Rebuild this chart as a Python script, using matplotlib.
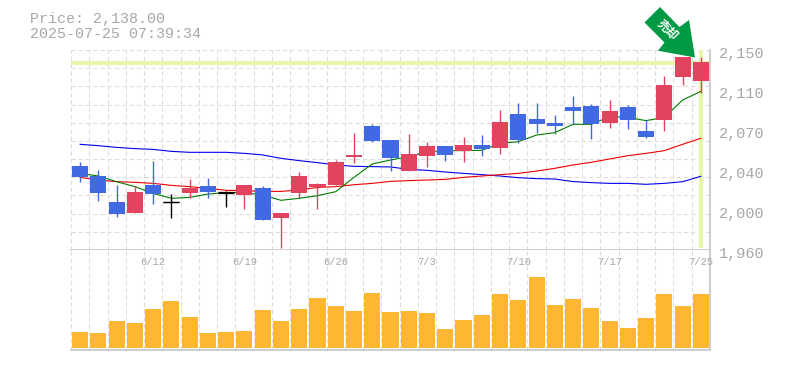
import matplotlib
matplotlib.use('Agg')
import matplotlib.pyplot as plt
from matplotlib.patches import Polygon

# candle values
opens = [2039.8, 2030.3, 2005.6, 1995.2, 2021.8, 2005.3, 2014.2, 2020.8, 2015.1, 2012.2, 2018.9, 1990.4,
         2014.2, 2019.5, 2021.8, 2048.4, 2077.8, 2064.5, 2035.0, 2049.3, 2058.8, 2054.0, 2059.8, 2056.9,
         2089.2, 2084.4, 2080.6, 2095.9, 2096.8, 2080.6, 2095.9, 2073.0, 2083.5, 2124.3, 2120.5]
closes = [2029.3, 2014.2, 1994.2, 2015.1, 2013.2, 2005.3, 2018.9, 2015.1, 2014.2, 2021.8, 1988.5, 1995.2,
          2030.3, 2022.7, 2043.6, 2050.3, 2063.5, 2047.4, 2051.2, 2058.8, 2050.3, 2059.8, 2056.0, 2081.6,
          2064.5, 2079.7, 2077.8, 2092.0, 2079.7, 2092.0, 2083.5, 2067.4, 2116.8, 2143.0, 2138.6]
highs = [2043.6, 2036.0, 2021.8, 2020.8, 2044.5, 2013.2, 2027.4, 2028.4, 2016.0, 2021.8, 2020.8, 1995.2,
         2034.1, 2023.6, 2045.5, 2071.1, 2079.7, 2064.5, 2070.2, 2062.6, 2058.8, 2067.4, 2069.3, 2093.0,
         2099.7, 2099.6, 2088.2, 2106.3, 2098.7, 2102.5, 2097.8, 2083.5, 2125.3, 2143.0, 2143.4]
lows = [2024.6, 2006.5, 1991.3, 1995.2, 2003.7, 1990.4, 2009.4, 2009.4, 2000.9, 1999.0, 1988.5, 1961.9,
        2009.4, 1999.0, 2021.8, 2042.6, 2062.6, 2035.0, 2035.0, 2038.8, 2044.5, 2043.6, 2049.3, 2051.2,
        2061.6, 2071.1, 2070.2, 2079.7, 2065.4, 2075.9, 2075.0, 2066.4, 2073.0, 2116.8, 2109.1]
volume = [16, 15, 27, 25, 39, 47, 31, 15, 16, 17, 38, 27, 39, 50, 42, 37, 55, 36,
          37, 35, 19, 28, 33, 54, 48, 71, 43, 49, 40, 27, 20, 30, 54, 42, 54]

ma_short = [2032.8, 2030.3, 2024.9, 2020.2, 2013.8, 2009.1, 2010.0, 2013.2, 2014.5, 2014.5, 2012.2, 2007.2,
            2009.1, 2011.6, 2015.4, 2029.0, 2041.7, 2045.5, 2048.7, 2053.4, 2054.4, 2054.4, 2054.7, 2061.3,
            2062.9, 2069.2, 2071.5, 2079.4, 2079.4, 2086.7, 2086.0, 2082.9, 2086.0, 2102.5, 2110.7]
ma_mid = [2029.0, 2026.5, 2024.9, 2024.3, 2023.3, 2021.4, 2020.2, 2018.6, 2016.7, 2016.4, 2015.7, 2015.7,
          2017.0, 2019.5, 2020.2, 2022.0, 2023.3, 2025.2, 2025.9, 2026.5, 2027.1, 2029.0, 2030.3, 2031.6,
          2032.8, 2035.0, 2037.6, 2040.8, 2043.3, 2046.5, 2049.6, 2051.8, 2054.4, 2060.4, 2066.1]
ma_long = [2060.4, 2059.1, 2057.5, 2056.3, 2055.6, 2053.7, 2052.8, 2052.8, 2052.8, 2051.8, 2050.3, 2047.1,
           2044.9, 2043.0, 2040.8, 2039.5, 2039.2, 2038.9, 2036.6, 2035.7, 2034.1, 2032.8, 2031.6, 2030.3,
           2028.7, 2027.8, 2027.4, 2025.0, 2024.0, 2023.3, 2023.3, 2022.4, 2023.3, 2024.9, 2030.0]

price_ticks = [2150, 2112, 2074, 2036, 1998, 1960]
price_labels = ['2,150', '2,110', '2,070', '2,040', '2,000', '1,960']
date_idx = [4, 9, 14, 19, 24, 29, 34]
date_labels = ['6/12', '6/19', '6/26', '7/3', '7/10', '7/17', '7/25']
last_price = 2138
title_lines = 'Price: 2,138.00\n2025-07-25 07:39:34'

UP = '#e2445f'
DOWN = '#4169e1'
VOL = '#ffb733'
HILITE = '#e6f7ab'
GRID = '#dcdcdc'
EDGE = '#c0c0c0'
TEXT = '#a8a8a8'
W, H = 785, 370
MONO = 'Liberation Mono'

fig = plt.figure(figsize=(W / 100, H / 100), dpi=100)
ax = fig.add_axes([71 / W, 1 - 250 / H, 639 / W, 200 / H])
vx = fig.add_axes([71 / W, 1 - 350 / H, 639 / W, 100 / H])

n = len(closes)
for a in (ax, vx):
    a.set_xlim(-0.5, n - 0.5)
    a.set_xticks([i - 0.5 for i in range(n)], minor=False)
    a.tick_params(length=0, labelbottom=False, labelleft=False)
    a.grid(axis='x', color=GRID, lw=0.75, ls=(0, (4, 3)), zorder=0)
    a.set_axisbelow(True)
    for s in a.spines.values():
        s.set_visible(False)
    a.spines['bottom'].set_visible(True)
    a.spines['bottom'].set_color(EDGE)
    a.spines['bottom'].set_linewidth(1.1)
    a.spines['right'].set_visible(True)
    a.spines['right'].set_color(EDGE)
    a.spines['right'].set_linewidth(1.1)

# price panel
ax.set_ylim(1960, 2150)
ax.set_yticks([1960 + 190 / 11 * i for i in range(12)])
ax.grid(axis='y', color=GRID, lw=0.75, ls=(0, (4, 3)), zorder=0)
ax.axhline(last_price, color=HILITE, lw=3, zorder=1)
ax.plot([n - 1, n - 1], [1960 + 2, 2150], color=HILITE, lw=3, zorder=1, solid_capstyle='butt')

xs = list(range(n))
ax.plot(xs, ma_long, color='#0000ee', lw=0.8, zorder=2)
ax.plot(xs, ma_mid, color='#ee0000', lw=0.8, zorder=2)
ax.plot(xs, ma_short, color='#007a00', lw=0.8, zorder=2)

for i in xs:
    if opens[i] == closes[i] or i == 8:
        c = 'black'
    elif closes[i] > opens[i]:
        c = UP
    else:
        c = DOWN
    ax.vlines(i, lows[i], highs[i], color=c, lw=1.0, zorder=3)
    top, bot = max(opens[i], closes[i]), min(opens[i], closes[i])
    if c == 'black':
        ax.hlines([top, bot], i - 0.44, i + 0.44, color=c, lw=0.9, zorder=4)
    else:
        ax.bar(i, top - bot, 0.88, bot, color=c, lw=0, zorder=4)

for p, lab in zip(price_ticks, price_labels):
    ax.annotate(lab, (1, p), xycoords=('axes fraction', 'data'), xytext=(9, -4), textcoords='offset pixels',
                color=TEXT, family=MONO, fontsize=11, va='center', ha='left', annotation_clip=False)

# volume panel
vx.set_ylim(-2, 98)
vx.set_yticks([])
vx.bar(xs, volume, 0.88, color=VOL, lw=0, zorder=3)
for i, lab in zip(date_idx, date_labels):
    vx.annotate(lab, (i, 1), xycoords=('data', 'axes fraction'), xytext=(0, -12), textcoords='offset pixels',
                color=TEXT, family=MONO, fontsize=7.6, va='center', ha='center', annotation_clip=False)

fig.text(30 / W, 1 - 12 / H, title_lines, color=TEXT, family=MONO, fontsize=10.8, va='top', ha='left', linespacing=1.08)

# sell arrow over the last candles
arrow = [(660, 7), (644.5, 22.5), (664.5, 42.5), (658, 50.7), (695, 57.5), (689, 20), (679.5, 27)]
arrow_px = [(x / W, 1 - y / H) for x, y in arrow]
fig.add_artist(Polygon(arrow_px, closed=True, transform=fig.transFigure, color='#009944', lw=0, zorder=10))
fig.text(667 / W, 1 - 30 / H, '売却', color='white', family=['Noto Sans CJK JP', 'DejaVu Sans'], fontsize=8.5,
         fontweight='bold', rotation=-45, rotation_mode='anchor', va='center', ha='center', zorder=11)

fig.savefig('out.png', dpi=100)
